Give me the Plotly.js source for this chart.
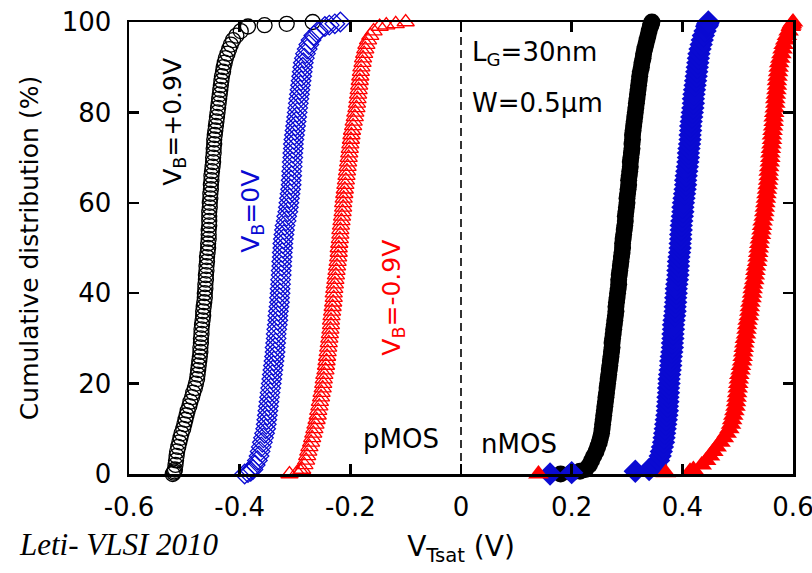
<!DOCTYPE html>
<html><head><meta charset="utf-8">
<script src="https://cdn.plot.ly/plotly-3.0.1.min.js"></script>
<style>html,body{margin:0;padding:0;background:#fff}</style>
</head><body>
<div id="chart" style="width:812px;height:573px"></div>
<script>
// cumulative distribution levels (%)
const pct = [0,0.3,0.6,
  1,2,3,4,5,6,7,8,9,10,
  11,12,13,14,15,16,17,18,19,20,
  21,22,23,24,25,26,27,28,29,30,
  31,32,33,34,35,36,37,38,39,40,
  41,42,43,44,45,46,47,48,49,50,
  51,52,53,54,55,56,57,58,59,60,
  61,62,63,64,65,66,67,68,69,70,
  71,72,73,74,75,76,77,78,79,80,
  81,82,83,84,85,86,87,88,89,90,
  91,92,93,94,95,96,97,98,99,
  99.3,99.6,100];

// pMOS VTsat (V)
const pmosVbPos09 = [-0.521,-0.519,-0.518,
  -0.517,-0.516,-0.515,-0.514,-0.513,-0.511,-0.509,-0.507,-0.505,-0.502,
  -0.500,-0.498,-0.496,-0.494,-0.491,-0.489,-0.486,-0.484,-0.481,-0.479,
  -0.477,-0.476,-0.475,-0.474,-0.473,-0.472,-0.471,-0.471,-0.470,-0.470,
  -0.469,-0.469,-0.468,-0.467,-0.466,-0.466,-0.465,-0.464,-0.463,-0.463,
  -0.462,-0.462,-0.461,-0.461,-0.460,-0.460,-0.459,-0.459,-0.458,-0.457,
  -0.457,-0.456,-0.456,-0.456,-0.455,-0.455,-0.455,-0.455,-0.454,-0.454,
  -0.453,-0.453,-0.452,-0.452,-0.451,-0.451,-0.450,-0.449,-0.448,-0.448,
  -0.447,-0.447,-0.446,-0.446,-0.445,-0.444,-0.443,-0.442,-0.441,-0.440,
  -0.439,-0.438,-0.437,-0.436,-0.435,-0.434,-0.433,-0.432,-0.430,-0.429,
  -0.427,-0.425,-0.422,-0.419,-0.416,-0.412,-0.406,-0.398,-0.385,
  -0.355,-0.315,-0.268];
const pmosVb0 = [-0.391,-0.385,-0.380,
  -0.376,-0.372,-0.368,-0.365,-0.363,-0.361,-0.359,-0.357,-0.355,-0.353,
  -0.352,-0.351,-0.350,-0.349,-0.348,-0.347,-0.346,-0.345,-0.344,-0.343,
  -0.342,-0.341,-0.340,-0.339,-0.338,-0.337,-0.336,-0.336,-0.335,-0.334,
  -0.334,-0.333,-0.332,-0.331,-0.331,-0.330,-0.329,-0.328,-0.328,-0.327,
  -0.327,-0.326,-0.326,-0.325,-0.325,-0.324,-0.324,-0.323,-0.323,-0.322,
  -0.322,-0.321,-0.320,-0.319,-0.318,-0.316,-0.315,-0.313,-0.312,-0.311,
  -0.310,-0.309,-0.308,-0.307,-0.307,-0.306,-0.306,-0.305,-0.305,-0.304,
  -0.304,-0.303,-0.303,-0.302,-0.301,-0.300,-0.299,-0.298,-0.297,-0.296,
  -0.295,-0.294,-0.293,-0.292,-0.291,-0.290,-0.289,-0.288,-0.287,-0.286,
  -0.285,-0.283,-0.281,-0.278,-0.275,-0.271,-0.266,-0.258,-0.246,
  -0.238,-0.228,-0.218];
const pmosVbNeg09 = [-0.310,-0.296,-0.290,
  -0.287,-0.283,-0.280,-0.278,-0.276,-0.274,-0.271,-0.269,-0.267,-0.265,
  -0.263,-0.261,-0.259,-0.258,-0.256,-0.255,-0.253,-0.252,-0.250,-0.249,
  -0.248,-0.247,-0.245,-0.244,-0.243,-0.242,-0.241,-0.240,-0.239,-0.238,
  -0.237,-0.236,-0.235,-0.235,-0.234,-0.233,-0.232,-0.231,-0.230,-0.230,
  -0.229,-0.228,-0.227,-0.226,-0.225,-0.224,-0.223,-0.222,-0.221,-0.221,
  -0.220,-0.219,-0.218,-0.218,-0.217,-0.216,-0.215,-0.214,-0.213,-0.213,
  -0.212,-0.211,-0.210,-0.209,-0.208,-0.207,-0.206,-0.205,-0.204,-0.203,
  -0.202,-0.201,-0.200,-0.199,-0.198,-0.197,-0.195,-0.194,-0.192,-0.191,
  -0.189,-0.188,-0.187,-0.186,-0.185,-0.184,-0.183,-0.182,-0.181,-0.180,
  -0.178,-0.177,-0.175,-0.173,-0.171,-0.168,-0.164,-0.158,-0.147,
  -0.135,-0.118,-0.100];

// nMOS VTsat (V)
const nmosVbPos09 = [0.180,0.200,0.215,
  0.225,0.232,0.236,0.240,0.244,0.247,0.250,0.252,0.254,0.255,
  0.256,0.257,0.258,0.259,0.260,0.261,0.262,0.263,0.264,0.265,
  0.266,0.267,0.268,0.269,0.270,0.271,0.272,0.273,0.273,0.274,
  0.275,0.276,0.277,0.278,0.279,0.280,0.280,0.281,0.282,0.283,
  0.284,0.285,0.285,0.286,0.287,0.288,0.289,0.290,0.291,0.292,
  0.292,0.293,0.294,0.295,0.296,0.297,0.297,0.298,0.299,0.300,
  0.300,0.301,0.302,0.303,0.303,0.304,0.305,0.306,0.306,0.307,
  0.308,0.309,0.309,0.310,0.310,0.311,0.312,0.313,0.314,0.315,
  0.316,0.317,0.318,0.319,0.320,0.321,0.322,0.323,0.324,0.326,
  0.327,0.329,0.330,0.332,0.334,0.336,0.338,0.340,0.342,
  0.343,0.344,0.345];
const nmosVb0 = [0.161,0.200,0.315,
  0.340,0.352,0.357,0.360,0.362,0.364,0.366,0.367,0.368,0.369,
  0.370,0.371,0.372,0.373,0.373,0.374,0.374,0.375,0.375,0.376,
  0.376,0.377,0.378,0.379,0.379,0.380,0.381,0.382,0.382,0.383,
  0.383,0.384,0.384,0.385,0.386,0.387,0.387,0.388,0.388,0.389,
  0.389,0.390,0.391,0.392,0.392,0.393,0.393,0.394,0.395,0.396,
  0.396,0.397,0.397,0.398,0.398,0.399,0.400,0.401,0.401,0.402,
  0.403,0.404,0.405,0.406,0.406,0.407,0.408,0.409,0.410,0.411,
  0.411,0.412,0.413,0.414,0.414,0.415,0.415,0.416,0.417,0.418,
  0.419,0.420,0.420,0.421,0.422,0.423,0.424,0.425,0.426,0.427,
  0.428,0.429,0.430,0.432,0.434,0.436,0.438,0.441,0.444,
  0.445,0.446,0.447];
const nmosVbNeg09 = [0.140,0.370,0.414,
  0.420,0.435,0.443,0.450,0.456,0.462,0.469,0.475,0.480,0.485,
  0.488,0.490,0.492,0.494,0.496,0.497,0.498,0.499,0.500,0.501,
  0.502,0.503,0.505,0.506,0.508,0.509,0.510,0.511,0.512,0.513,
  0.515,0.516,0.517,0.518,0.520,0.521,0.522,0.523,0.525,0.526,
  0.527,0.528,0.530,0.531,0.532,0.533,0.535,0.536,0.537,0.538,
  0.539,0.540,0.542,0.543,0.544,0.545,0.547,0.548,0.549,0.550,
  0.551,0.552,0.553,0.554,0.555,0.556,0.556,0.557,0.558,0.559,
  0.559,0.560,0.561,0.562,0.562,0.563,0.564,0.565,0.565,0.566,
  0.567,0.568,0.568,0.569,0.570,0.571,0.571,0.572,0.573,0.574,
  0.575,0.577,0.579,0.581,0.583,0.586,0.589,0.592,0.596,
  0.597,0.598,0.600];

const xTickVals = [-0.6,-0.4,-0.2,0,0.2,0.4,0.6];
const xTickText = ["-0.6","-0.4","-0.2","0","0.2","0.4","0.6"];
const yTickVals = [0,20,40,60,80,100];
const yTickText = ["0","20","40","60","80","100"];

const BLACK = '#000000', BLUE = '#0a0ad2', RED = '#ff0000';
const SANS = 'DejaVu Sans';

function openTrace(x, sym, color, size) {
  return {x: x, y: pct, type: 'scatter', mode: 'markers', cliponaxis: false,
    marker: {symbol: sym, size: size, color: color, line: {color: color, width: 1.3}}};
}
function fillTrace(x, sym, color, size) {
  return {x: x, y: pct, type: 'scatter', mode: 'markers', cliponaxis: false,
    marker: {symbol: sym, size: size, color: color, line: {width: 0}}};
}

const data = [
  openTrace(pmosVbPos09, 'circle-open', BLACK, 15),
  openTrace(pmosVb0, 'diamond-open', BLUE, 15),
  openTrace(pmosVbNeg09, 'triangle-up-open', RED, 15),
  fillTrace(nmosVbPos09, 'circle', BLACK, 17),
  fillTrace(nmosVb0, 'diamond', BLUE, 18),
  fillTrace(nmosVbNeg09, 'triangle-up', RED, 18)
];

const tickFont = {family: SANS, size: 26, color: '#000'};
const axisCommon = {
  showline: true, linecolor: '#000', linewidth: 2.5, mirror: 'ticks',
  ticks: 'inside', ticklen: 10, tickwidth: 2.5, tickcolor: '#000',
  showgrid: false, zeroline: false, tickfont: tickFont, ticklabeloverflow: 'allow'
};

const layout = {
  width: 812, height: 573,
  margin: {l: 129, r: 19, t: 22, b: 99},
  paper_bgcolor: '#fff', plot_bgcolor: '#fff',
  showlegend: false,
  font: {family: SANS, color: '#000'},
  xaxis: Object.assign({}, axisCommon, {
    range: [-0.6, 0.6], tickvals: xTickVals, ticktext: xTickText,
    ticklabelstandoff: 8,
    title: {text: 'V<sub>Tsat</sub> (V)', font: {family: SANS, size: 28, color: '#000'}, standoff: 16}
  }),
  yaxis: Object.assign({}, axisCommon, {
    range: [0, 100], tickvals: yTickVals, ticktext: yTickText,
    ticklabelstandoff: 10,
    title: {text: 'Cumulative distribution (%)', font: {family: SANS, size: 25, color: '#000'}, standoff: 16}
  }),
  shapes: [
    {type: 'line', xref: 'x', yref: 'y', x0: 0, x1: 0, y0: 0, y1: 100,
     line: {color: '#000', width: 1.6, dash: '8px,5px'}}
  ],
  annotations: [
    {xref: 'x', yref: 'y', x: -0.518, y: 78, text: 'V<sub>B</sub>=+0.9V', textangle: -90,
     showarrow: false, font: {family: SANS, size: 25, color: BLACK}},
    {xref: 'x', yref: 'y', x: -0.378, y: 58.2, text: 'V<sub>B</sub>=0V', textangle: -90,
     showarrow: false, font: {family: SANS, size: 25, color: BLUE}},
    {xref: 'x', yref: 'y', x: -0.123, y: 39, text: 'V<sub>B</sub>=-0.9V', textangle: -90,
     showarrow: false, font: {family: SANS, size: 25, color: RED}},
    {xref: 'x', yref: 'y', x: 0.016, y: 93, xanchor: 'left', text: 'L<sub>G</sub>=30nm',
     showarrow: false, font: {family: SANS, size: 26, color: '#000'}},
    {xref: 'x', yref: 'y', x: 0.016, y: 82, xanchor: 'left', text: 'W=0.5µm',
     showarrow: false, font: {family: SANS, size: 26, color: '#000'}},
    {xref: 'x', yref: 'y', x: -0.036, y: 7.7, xanchor: 'right', text: 'pMOS',
     showarrow: false, font: {family: SANS, size: 26, color: '#000'}},
    {xref: 'x', yref: 'y', x: 0.032, y: 6.6, xanchor: 'left', text: 'nMOS',
     showarrow: false, font: {family: SANS, size: 26, color: '#000'}},
    {xref: 'paper', yref: 'paper', x: -0.169, y: -0.157, xanchor: 'left', yanchor: 'middle',
     text: '<i>Leti- VLSI 2010</i>', showarrow: false,
     font: {family: 'Liberation Serif', size: 31, color: '#000'}}
  ]
};

Plotly.newPlot('chart', data, layout, {displayModeBar: false, staticPlot: true});
</script>
</body></html>
